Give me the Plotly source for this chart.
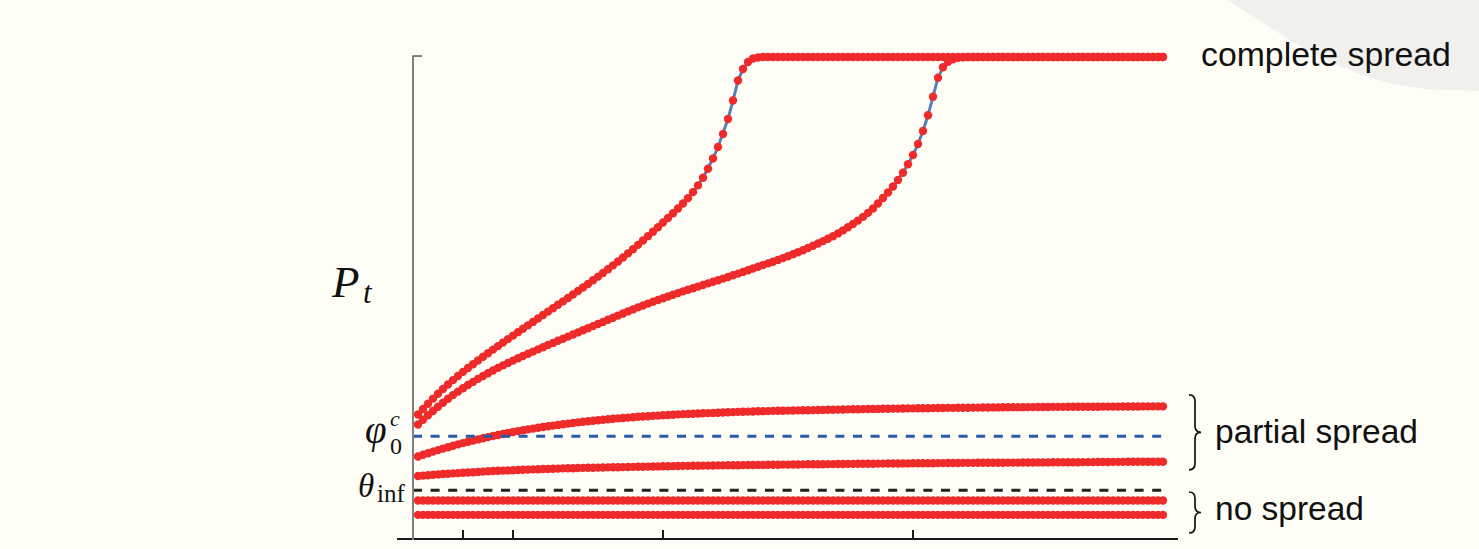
import plotly.graph_objects as go

# ---------------------------------------------------------------- data
# time grid: one sample every 0.1 time units
T = [round(0.1 * k, 1) for k in range(1, 151)]
T_END = 15.0

# fraction of adopters P_t for each initial condition
FAST_COMPLETE = [
    0.2583, 0.2696, 0.2806, 0.2912, 0.3014, 0.3112, 0.3206, 0.3296, 0.3383, 0.3467,
    0.3548, 0.3627, 0.3704, 0.3780, 0.3855, 0.3929, 0.4002, 0.4075, 0.4147, 0.4219,
    0.4291, 0.4362, 0.4433, 0.4504, 0.4575, 0.4646, 0.4717, 0.4788, 0.4859, 0.4930,
    0.5001, 0.5073, 0.5145, 0.5218, 0.5292, 0.5367, 0.5443, 0.5520, 0.5598, 0.5677,
    0.5758, 0.5841, 0.5926, 0.6013, 0.6102, 0.6192, 0.6283, 0.6375, 0.6469, 0.6567,
    0.6661, 0.6757, 0.6856, 0.6960, 0.7072, 0.7196, 0.7336, 0.7496, 0.7681, 0.7893,
    0.8133, 0.8402, 0.8714, 0.9097, 0.9512, 0.9751, 0.9896, 0.9969, 0.9990, 1.0,
] + [1.0] * 80

SLOW_COMPLETE = [
    0.2376, 0.2473, 0.2566, 0.2656, 0.2743, 0.2828, 0.2909, 0.2985, 0.3058, 0.3129,
    0.3195, 0.3259, 0.3322, 0.3382, 0.3440, 0.3496, 0.3550, 0.3602, 0.3651, 0.3701,
    0.3749, 0.3797, 0.3842, 0.3888, 0.3934, 0.3979, 0.4025, 0.4068, 0.4112, 0.4156,
    0.4199, 0.4243, 0.4286, 0.4330, 0.4373, 0.4417, 0.4461, 0.4504, 0.4548, 0.4591,
    0.4635, 0.4678, 0.4722, 0.4763, 0.4805, 0.4844, 0.4884, 0.4921, 0.4959, 0.4996,
    0.5031, 0.5066, 0.5102, 0.5137, 0.5170, 0.5203, 0.5237, 0.5270, 0.5303, 0.5336,
    0.5369, 0.5402, 0.5436, 0.5471, 0.5506, 0.5541, 0.5577, 0.5612, 0.5647, 0.5683,
    0.5718, 0.5753, 0.5790, 0.5828, 0.5867, 0.5907, 0.5948, 0.5992, 0.6037, 0.6083,
    0.6131, 0.6180, 0.6230, 0.6282, 0.6340, 0.6402, 0.6467, 0.6535, 0.6606, 0.6683,
    0.6766, 0.6857, 0.6961, 0.7075, 0.7189, 0.7313, 0.7448, 0.7600, 0.7774, 0.7967,
    0.8195, 0.8465, 0.8790, 0.9176, 0.9571, 0.9786, 0.9902, 0.9952, 0.9983, 0.9994,
] + [1.0] * 40

PARTIAL_HIGH = [
    0.1712, 0.1747, 0.1780, 0.1813, 0.1844, 0.1876, 0.1905, 0.1934, 0.1963, 0.1990,
    0.2017, 0.2041, 0.2066, 0.2091, 0.2114, 0.2137, 0.2158, 0.2178, 0.2199, 0.2220,
    0.2239, 0.2257, 0.2274, 0.2290, 0.2307, 0.2324, 0.2338, 0.2353, 0.2367, 0.2382,
    0.2394, 0.2407, 0.2419, 0.2432, 0.2444, 0.2454, 0.2465, 0.2475, 0.2485, 0.2494,
    0.2502, 0.2510, 0.2519, 0.2527, 0.2535, 0.2542, 0.2548, 0.2554, 0.2560, 0.2566,
    0.2573, 0.2579, 0.2585, 0.2591, 0.2595, 0.2600, 0.2604, 0.2608, 0.2612, 0.2616,
    0.2620, 0.2625, 0.2629, 0.2633, 0.2637, 0.2639, 0.2643, 0.2645, 0.2649, 0.2652,
    0.2654, 0.2658, 0.2660, 0.2662, 0.2664, 0.2666, 0.2668, 0.2670, 0.2672, 0.2674,
    0.2676, 0.2678, 0.2680, 0.2682, 0.2684, 0.2687, 0.2689, 0.2691, 0.2693, 0.2695,
    0.2697, 0.2699, 0.2699, 0.2701, 0.2703, 0.2705, 0.2705, 0.2707, 0.2710, 0.2710,
    0.2712, 0.2714, 0.2714, 0.2716, 0.2718, 0.2718, 0.2720, 0.2720, 0.2722, 0.2724,
    0.2724, 0.2726, 0.2726, 0.2728, 0.2728, 0.2730, 0.2730, 0.2732, 0.2732, 0.2735,
    0.2735, 0.2735, 0.2737, 0.2737, 0.2739, 0.2739, 0.2739, 0.2741, 0.2741, 0.2741,
    0.2743, 0.2743, 0.2743, 0.2745, 0.2745, 0.2745, 0.2745, 0.2747, 0.2747, 0.2747,
    0.2747, 0.2749, 0.2749, 0.2749, 0.2749, 0.2751, 0.2751, 0.2751, 0.2751, 0.2751,
]

PARTIAL_LOW = [
    0.1307, 0.1315, 0.1324, 0.1332, 0.1340, 0.1349, 0.1355, 0.1361, 0.1367, 0.1373,
    0.1380, 0.1386, 0.1392, 0.1398, 0.1405, 0.1411, 0.1415, 0.1419, 0.1423, 0.1427,
    0.1432, 0.1436, 0.1440, 0.1444, 0.1448, 0.1452, 0.1454, 0.1459, 0.1461, 0.1465,
    0.1467, 0.1469, 0.1473, 0.1475, 0.1477, 0.1479, 0.1481, 0.1483, 0.1486, 0.1488,
    0.1490, 0.1492, 0.1494, 0.1496, 0.1498, 0.1500, 0.1502, 0.1504, 0.1506, 0.1508,
    0.1510, 0.1512, 0.1515, 0.1517, 0.1517, 0.1519, 0.1521, 0.1523, 0.1523, 0.1525,
    0.1527, 0.1527, 0.1529, 0.1531, 0.1531, 0.1533, 0.1535, 0.1535, 0.1537, 0.1537,
    0.1539, 0.1542, 0.1542, 0.1544, 0.1544, 0.1546, 0.1546, 0.1548, 0.1550, 0.1550,
    0.1552, 0.1552, 0.1554, 0.1554, 0.1556, 0.1556, 0.1558, 0.1558, 0.1560, 0.1560,
    0.1562, 0.1562, 0.1564, 0.1564, 0.1566, 0.1566, 0.1566, 0.1568, 0.1568, 0.1571,
    0.1571, 0.1573, 0.1573, 0.1573, 0.1575, 0.1575, 0.1577, 0.1577, 0.1577, 0.1579,
    0.1579, 0.1579, 0.1581, 0.1581, 0.1581, 0.1583, 0.1583, 0.1583, 0.1585, 0.1585,
    0.1585, 0.1587, 0.1587, 0.1587, 0.1589, 0.1589, 0.1589, 0.1591, 0.1591, 0.1591,
    0.1593, 0.1593, 0.1593, 0.1595, 0.1595, 0.1595, 0.1598, 0.1598, 0.1598, 0.1600,
    0.1600, 0.1600, 0.1602, 0.1602, 0.1602, 0.1602, 0.1604, 0.1604, 0.1604, 0.1604,
]

NO_SPREAD_HIGH = [0.080] * 150
NO_SPREAD_LOW = [0.050] * 150

# thresholds
PHI0_C = 0.213
THETA_INF = 0.101

X_TICKS = [1, 2, 5, 10]

CURVES = [FAST_COMPLETE, SLOW_COMPLETE, PARTIAL_HIGH, PARTIAL_LOW,
          NO_SPREAD_HIGH, NO_SPREAD_LOW]

# ---------------------------------------------------------------- style
BG = "#fffef6"
RED = "#ee2a2a"
LINE_BLUE = "#5580b8"
DASH_BLUE = "#2a58a6"
DASH_BLACK = "#222222"
INK = "#111111"
MATH_FONT = "Liberation Serif"
TEXT_FONT = "Liberation Sans"
W, H = 1479, 549

fig = go.Figure()

for ys in CURVES:
    fig.add_trace(go.Scatter(
        x=T, y=ys, mode="lines+markers",
        line=dict(color=LINE_BLUE, width=3),
        marker=dict(color=RED, size=8.4, line=dict(width=0)),
        hoverinfo="skip", showlegend=False,
    ))

for level, colour in [(PHI0_C, DASH_BLUE), (THETA_INF, DASH_BLACK)]:
    fig.add_trace(go.Scatter(
        x=[0, T_END], y=[level, level], mode="lines",
        line=dict(color=colour, width=3, dash="9px,8.6px"),
        hoverinfo="skip", showlegend=False,
    ))

shapes = []

# soft grey corner in the top right of the page
corner = [(1227, 0), (1262, 22), (1285, 37), (1305, 49), (1332, 63), (1362, 75),
          (1392, 84), (1425, 89), (1479, 91), (1479, 0)]
corner_path = "M " + " L ".join(f"{px / W:.4f},{1 - py / H:.4f}" for px, py in corner) + " Z"
shapes.append(dict(type="path", xref="paper", yref="paper", path=corner_path,
                   fillcolor="#f2f0ed", line=dict(width=0), layer="below"))

# axes
shapes.append(dict(type="line", xref="x", yref="y", x0=-0.32, x1=15.3, y0=0, y1=0,
                   line=dict(color="#1a1a1a", width=2)))
shapes.append(dict(type="line", xref="x", yref="y", x0=0, x1=0, y0=-0.002, y1=1.002,
                   line=dict(color="#808080", width=2)))
shapes.append(dict(type="line", xref="x", yref="y", x0=-0.01, x1=0.18, y0=1.002, y1=1.002,
                   line=dict(color="#808080", width=2)))
for tk in X_TICKS:
    shapes.append(dict(type="line", xref="x", yref="y", x0=tk, x1=tk, y0=0, y1=0.0187,
                       line=dict(color="#1a1a1a", width=2)))


def brace(x_left, x_tip, y_top, y_bot, bend=0.013):
    xm = (x_left + x_tip) / 2
    ym = (y_top + y_bot) / 2
    return (f"M {x_left},{y_top} Q {xm},{y_top} {xm},{y_top - bend} "
            f"L {xm},{ym + bend} Q {xm},{ym} {x_tip},{ym} "
            f"Q {xm},{ym} {xm},{ym - bend} L {xm},{y_bot + bend} "
            f"Q {xm},{y_bot} {x_left},{y_bot}")


partial_top = PARTIAL_HIGH[-1] + 0.024
partial_bot = PARTIAL_LOW[-1] - 0.017
none_top = 0.0975
none_bot = 0.0124
for top, bot in [(partial_top, partial_bot), (none_top, none_bot)]:
    shapes.append(dict(type="path", xref="x", yref="y", path=brace(15.52, 15.76, top, bot),
                       line=dict(color=INK, width=1.7)))

annotations = []


def label(x, y, text, size, family, xanchor="left"):
    annotations.append(dict(x=x, y=y, xref="x", yref="y", text=text, showarrow=False,
                            xanchor=xanchor, yanchor="middle",
                            font=dict(family=family, size=size, color=INK)))


label(15.72, 1.006, "complete spread", 33.8, TEXT_FONT)
label(16.0, 0.2232, "partial spread", 33.5, TEXT_FONT)
label(16.0, 0.0635, "no spread", 33.5, TEXT_FONT)

# axis label P_t
label(-1.02, 0.533, "<i>P</i>", 45, MATH_FONT, xanchor="right")
label(-1.04, 0.5114, "<i>t</i>", 31, MATH_FONT)

# phi_0^c
label(-0.48, 0.2266, "<i>φ</i>", 39, MATH_FONT, xanchor="right")
label(-0.50, 0.2498, "<i>c</i>", 22, MATH_FONT)
label(-0.50, 0.1930, "0", 24, MATH_FONT)

# theta_inf
label(-0.74, 0.1095, "<i>θ</i>", 33, MATH_FONT, xanchor="right")
label(-0.76, 0.0948, "inf", 25, MATH_FONT)

fig.update_layout(
    width=W, height=H,
    margin=dict(l=0, r=0, t=0, b=0),
    paper_bgcolor=BG, plot_bgcolor=BG,
    xaxis=dict(visible=False, range=[-8.26, 21.32], fixedrange=True),
    yaxis=dict(visible=False, range=[-0.020747, 1.118257], fixedrange=True),
    shapes=shapes, annotations=annotations,
    showlegend=False,
)

fig.write_html("out.html", config={"displayModeBar": False})
